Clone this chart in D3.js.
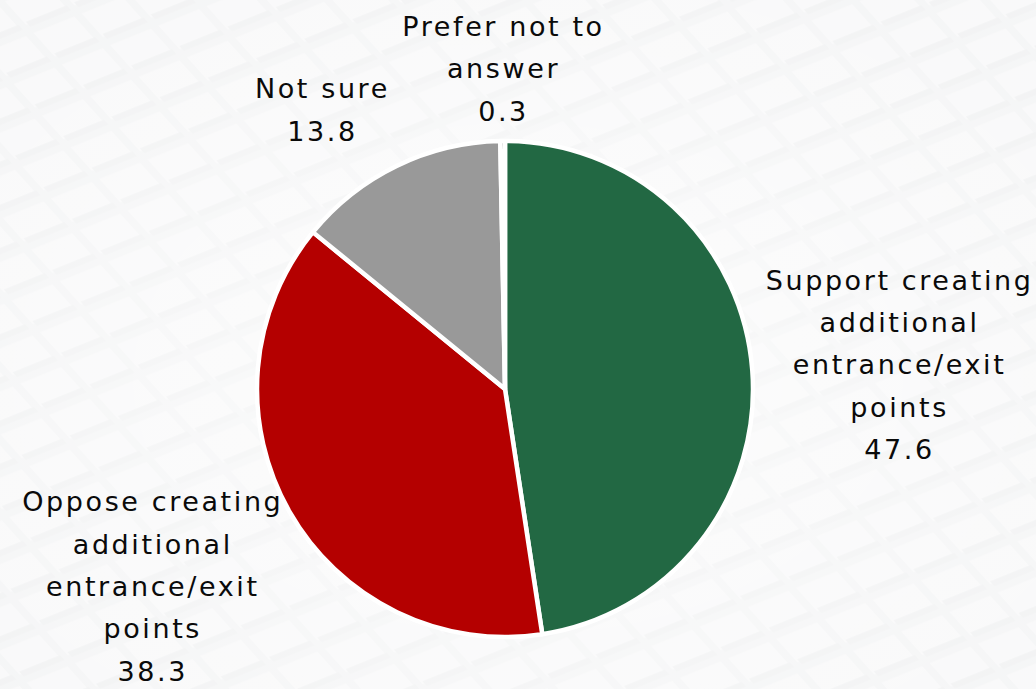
<!DOCTYPE html>
<html>
<head>
<meta charset="utf-8">
<script src="https://cdn.jsdelivr.net/npm/d3@7"></script>
<style>
	html, body { margin: 0; padding: 0; background: #f3f4f5; }
	svg { display: block; }
	text { font-family: "DejaVu Sans", Verdana, sans-serif; fill: #0a0a0a; }
</style>
</head>
<body>
<svg id="chart" width="1036" height="689"></svg>
<script>
var categories = [
	"Support creating additional entrance/exit points",
	"Oppose creating additional entrance/exit points",
	"Not sure",
	"Prefer not to answer"
];
var values = [47.6, 38.3, 13.8, 0.3];
var labelLines = [
	["Support creating", "additional", "entrance/exit", "points"],
	["Oppose creating", "additional", "entrance/exit", "points"],
	["Not sure"],
	["Prefer not to", "answer"]
];
var Colors = ["#226843", "#b40000", "#999999", "#262626"];

var width = 1036, height = 689;
var cx = 505, cy = 389, radius = 248;

var svg = d3.select("#chart");

// tiled background
var defs = svg.append("defs");
var pat = defs.append("pattern")
	.attr("id", "tiles")
	.attr("patternUnits", "userSpaceOnUse")
	.attr("width", 52).attr("height", 40)
	.attr("patternTransform", "rotate(-22) skewX(20)");
pat.append("rect").attr("width", 52).attr("height", 40).attr("fill", "#f0f1f2");
pat.append("rect").attr("x", 3).attr("y", 3).attr("width", 44).attr("height", 30)
	.attr("fill", "#f6f6f7");
pat.append("rect").attr("x", 5).attr("y", 30).attr("width", 44).attr("height", 6)
	.attr("fill", "#ecedee");
var grad = defs.append("radialGradient").attr("id", "fade")
	.attr("cx", "50%").attr("cy", "55%").attr("r", "65%");
grad.append("stop").attr("offset", "0%").attr("stop-color", "#fff").attr("stop-opacity", 0.7);
grad.append("stop").attr("offset", "100%").attr("stop-color", "#fff").attr("stop-opacity", 0.35);

svg.append("rect").attr("width", width).attr("height", height).attr("fill", "url(#tiles)");
svg.append("rect").attr("width", width).attr("height", height).attr("fill", "url(#fade)");

var pie = d3.pie().sort(null).value(function(d) { return d; });
var arc = d3.arc().innerRadius(0).outerRadius(radius);
var arcs = pie(values);

var g = svg.append("g").attr("transform", "translate(" + cx + "," + cy + ")");

g.selectAll("path.slice")
	.data(arcs)
	.enter().append("path")
		.attr("class", "slice")
		.attr("d", arc)
		.attr("fill", function(d, i) { return Colors[i]; })
		.attr("stroke", "#fff")
		.attr("stroke-width", 4.5)
		.attr("stroke-linejoin", "round");

// label placement: angle + distance from centre, tuned like excel best-fit
var labelPlace = [
	{ angle: 86.5, dist: 394 },
	{ angle: 240.8, dist: 405 },
	{ angle: 326.6, dist: 334 },
	{ angle: 359.5, dist: 320 }
];
var lineH = 42.3;
var fmt = d3.format(".1f");

var labels = g.selectAll("g.label")
	.data(arcs)
	.enter().append("g")
		.attr("class", "label")
		.attr("transform", function(d, i) {
			var a = labelPlace[i].angle * Math.PI / 180;
			var r = labelPlace[i].dist;
			return "translate(" + (r * Math.sin(a)) + "," + (-r * Math.cos(a)) + ")";
		});

labels.each(function(d, i) {
	var lines = labelLines[i].concat([fmt(d.value)]);
	var t = d3.select(this).append("text")
		.attr("text-anchor", "middle")
		.style("font-size", "27px")
		.style("letter-spacing", "2.6px");
	var y0 = -(lines.length - 1) * lineH / 2;
	lines.forEach(function(l, k) {
		t.append("tspan")
			.attr("x", 1.3)
			.attr("y", y0 + k * lineH)
			.attr("dy", "0.35em")
			.text(l);
	});
});
</script>
</body>
</html>
